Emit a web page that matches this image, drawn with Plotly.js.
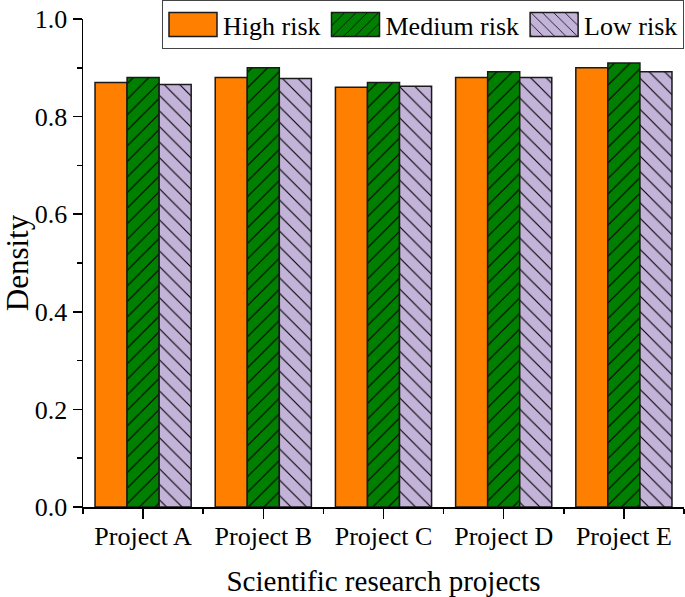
<!DOCTYPE html>
<html>
<head>
<meta charset="utf-8">
<script src="https://cdn.plot.ly/plotly-3.0.1.min.js"></script>
<style>html,body{margin:0;padding:0;background:#fff;}#chart{width:685px;height:597px;}</style>
</head>
<body>
<div id="chart"></div>
<script>
const categories = ["Project A", "Project B", "Project C", "Project D", "Project E"];
const seriesNames = ["High risk", "Medium risk", "Low risk"];
const highRisk = [0.870, 0.880, 0.860, 0.880, 0.900];
const mediumRisk = [0.880, 0.900, 0.870, 0.892, 0.910];
const lowRisk = [0.866, 0.878, 0.862, 0.880, 0.892];
const yTickVals = [0, 0.2, 0.4, 0.6, 0.8, 1.0];

const xIdx = categories.map((c, i) => i);
const FONT = "Liberation Serif, Times New Roman, serif";
const lineStyle = {color: "#1a1a1a", width: 1.5};

const traces = [
  {type: "bar", name: seriesNames[0], x: xIdx, y: highRisk,
   marker: {color: "#ff7f00", line: lineStyle}},
  {type: "bar", name: seriesNames[1], x: xIdx, y: mediumRisk,
   marker: {color: "#007f00", line: lineStyle,
            pattern: {shape: "/", fgcolor: "#000000", bgcolor: "#007f00", size: 11, solidity: 0.1}}},
  {type: "bar", name: seriesNames[2], x: xIdx, y: lowRisk,
   marker: {color: "#c3b3d9", line: lineStyle,
            pattern: {shape: "\\", fgcolor: "#000000", bgcolor: "#c3b3d9", size: 11, solidity: 0.1}}}
];

const layout = {
  width: 685, height: 597,
  margin: {l: 83, r: 1, t: 18, b: 90},
  paper_bgcolor: "#ffffff", plot_bgcolor: "#ffffff",
  font: {family: FONT, color: "#000000", size: 26},
  barmode: "group", bargap: 0.2, bargroupgap: 0,
  showlegend: true,
  legend: {orientation: "h", x: 1, xanchor: "right", y: 1.037, yanchor: "top",
           bordercolor: "#444444", borderwidth: 1, bgcolor: "#ffffff", itemwidth: 50,
           font: {family: FONT, size: 26, color: "#000000"}, traceorder: "normal"},
  xaxis: {
    range: [-0.5, 4.5], tickmode: "array", tickvals: xIdx, ticktext: categories,
    showline: true, linecolor: "#000000", linewidth: 1.5, showgrid: false, zeroline: false,
    ticks: "outside", ticklen: 10, tickwidth: 1.5, tickcolor: "#000000",
    ticklabelstandoff: -5,
    tickfont: {family: FONT, size: 26, color: "#000000"},
    minor: {tick0: -0.5, dtick: 1, ticks: "outside", ticklen: 5, tickwidth: 1.5, tickcolor: "#000000", showgrid: false},
    title: {text: "Scientific research projects", font: {family: FONT, size: 29, color: "#000000"}}
  },
  yaxis: {
    range: [0, 1], tickmode: "array", tickvals: yTickVals, tickformat: ".1f",
    showline: true, linecolor: "#000000", linewidth: 1.5, showgrid: false, zeroline: false,
    ticks: "outside", ticklen: 9, tickwidth: 1.5, tickcolor: "#000000",
    tickfont: {family: FONT, size: 26, color: "#000000"},
    minor: {tick0: 0, dtick: 0.1, ticks: "outside", ticklen: 5, tickwidth: 1.5, tickcolor: "#000000", showgrid: false},
    title: {text: "Density", font: {family: FONT, size: 31, color: "#000000"}}
  }
};

Plotly.newPlot("chart", traces, layout, {displayModeBar: false, staticPlot: true}).then(function (gd) {
  gd.querySelectorAll(".legend .legendpoints path").forEach(function (p) {
    p.setAttribute("d", "M24,12H-24V-12H24Z");
  });
});
</script>
</body>
</html>
